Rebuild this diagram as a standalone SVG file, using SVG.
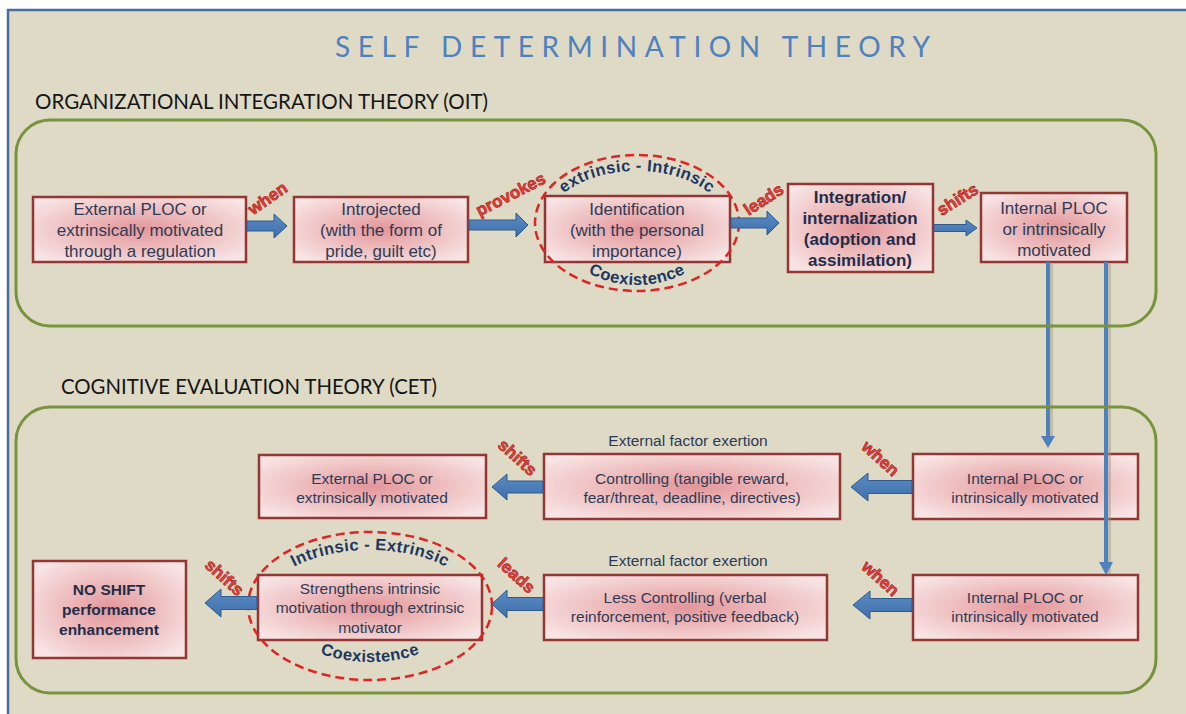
<svg xmlns="http://www.w3.org/2000/svg" width="1186" height="714" viewBox="0 0 1186 714">
  <defs>
    <radialGradient id="boxFill" cx="0.5" cy="0.5" r="0.62">
      <stop offset="0" stop-color="#e3969a"/>
      <stop offset="0.55" stop-color="#efc1c2"/>
      <stop offset="1" stop-color="#f8e4e4"/>
    </radialGradient>
    <linearGradient id="arrowFill" x1="0" y1="0" x2="0" y2="1">
      <stop offset="0" stop-color="#5b8cc6"/>
      <stop offset="1" stop-color="#3f6fa8"/>
    </linearGradient>
    <path id="arcTop1" d="M 547,225 A 90,54 0 0 1 727,225"/>
    <path id="arcBot1" d="M 555,223 A 82,62 0 0 0 719,223"/>
    <path id="arcTop2" d="M 262,608 A 108,58 0 0 1 478,608"/>
    <path id="arcBot2" d="M 272,602 A 98,60 0 0 0 468,602"/>
  </defs>
  <style>
    .panel { fill: #dedac6; stroke: #4a6d9c; stroke-width: 2.5; }
    .group { fill: none; stroke: #77933c; stroke-width: 3; }
    .box { fill: url(#boxFill); stroke: #943634; stroke-width: 2.5; }
    .txt { font-family: "Liberation Sans", Arial, sans-serif; font-size: 17px; fill: #2e3b56; text-anchor: middle; }
    .sm { font-size: 15.5px; }
    .bold { font-weight: bold; fill: #1f2d4b; }
    .title { font-family: Lato, "Open Sans", sans-serif; font-size: 28px; fill: #4f81bd; }
    .head { font-family: Lato, "Open Sans", sans-serif; font-size: 21px; fill: #151515; }
    .lbl { font-family: "Liberation Sans", Arial, sans-serif; font-size: 17px; font-weight: bold; fill: #e8403a; stroke: #a81c1c; stroke-width: 0.6; text-anchor: middle; }
    .arrow { fill: url(#arrowFill); stroke: #2f5a8e; stroke-width: 1; }
    .vline { stroke: #4f81bd; stroke-width: 4; fill: none; }
    .vshadow { stroke: #9a9684; stroke-width: 4; fill: none; opacity: 0.45; }
    .ring { fill: none; stroke: #e02424; stroke-width: 2.5; stroke-dasharray: 9 5; }
    .arc { font-family: "Liberation Sans", Arial, sans-serif; font-size: 16.5px; font-weight: bold; fill: #21365e; letter-spacing: 0.4px; }
  </style>

  <!-- background panel -->
  <rect x="0" y="0" width="1186" height="714" fill="#ffffff"/>
  <rect class="panel" x="8" y="10" width="1200" height="720"/>

  <!-- titles -->
  <text class="title" x="335" y="57" textLength="595" lengthAdjust="spacing">SELF DETERMINATION THEORY</text>
  <text class="head" x="35" y="109" textLength="453" lengthAdjust="spacingAndGlyphs">ORGANIZATIONAL INTEGRATION THEORY (OIT)</text>
  <text class="head" x="61" y="394" textLength="376" lengthAdjust="spacingAndGlyphs">COGNITIVE EVALUATION THEORY (CET)</text>

  <!-- OIT nodes -->
  <g id="oit-external">
    <rect class="box" x="33" y="197" width="213" height="65"/>
    <text class="txt" x="140" y="215">External PLOC or</text>
    <text class="txt" x="140" y="236">extrinsically motivated</text>
    <text class="txt" x="140" y="257">through a regulation</text>
  </g>
  <g id="oit-introjected">
    <rect class="box" x="294" y="197" width="174" height="65"/>
    <text class="txt" x="381" y="215">Introjected</text>
    <text class="txt" x="381" y="236">(with the form of</text>
    <text class="txt" x="381" y="257">pride, guilt etc)</text>
  </g>
  <g id="oit-identification">
    <rect class="box" x="545" y="196" width="185" height="66"/>
    <text class="txt" x="637" y="215">Identification</text>
    <text class="txt" x="637" y="236">(with the personal</text>
    <text class="txt" x="637" y="257">importance)</text>
    <ellipse class="ring" cx="637" cy="223" rx="102" ry="68"/>
    <text class="arc"><textPath href="#arcTop1" startOffset="50%" text-anchor="middle">extrinsic - Intrinsic</textPath></text>
    <text class="arc"><textPath href="#arcBot1" startOffset="50%" text-anchor="middle">Coexistence</textPath></text>
  </g>
  <g id="oit-integration">
    <rect class="box" x="788" y="184" width="145" height="88"/>
    <text class="txt bold" x="860" y="203">Integration/</text>
    <text class="txt bold" x="860" y="224">internalization</text>
    <text class="txt bold" x="860" y="245">(adoption and</text>
    <text class="txt bold" x="860" y="266">assimilation)</text>
  </g>
  <g id="oit-internal">
    <rect class="box" x="981" y="193" width="146" height="69"/>
    <text class="txt" x="1054" y="214">Internal PLOC</text>
    <text class="txt" x="1054" y="235">or intrinsically</text>
    <text class="txt" x="1054" y="256">motivated</text>
  </g>

  <!-- CET nodes, first row -->
  <g id="cet-external">
    <rect class="box" x="259" y="455" width="227" height="63"/>
    <text class="txt sm" x="372" y="484">External PLOC or</text>
    <text class="txt sm" x="372" y="503">extrinsically motivated</text>
  </g>
  <g id="cet-controlling">
    <rect class="box" x="544" y="454" width="296" height="65"/>
    <text class="txt sm" x="692" y="484">Controlling (tangible reward,</text>
    <text class="txt sm" x="692" y="503">fear/threat, deadline, directives)</text>
  </g>
  <g id="cet-internal-1">
    <rect class="box" x="913" y="454" width="225" height="65"/>
    <text class="txt sm" x="1025" y="484">Internal PLOC or</text>
    <text class="txt sm" x="1025" y="503">intrinsically motivated</text>
  </g>

  <!-- CET nodes, second row -->
  <g id="cet-noshift">
    <rect class="box" x="33" y="561" width="153" height="97"/>
    <text class="txt bold sm" x="109" y="595">NO SHIFT</text>
    <text class="txt bold sm" x="109" y="615">performance</text>
    <text class="txt bold sm" x="109" y="635">enhancement</text>
  </g>
  <g id="cet-strengthens">
    <rect class="box" x="258" y="575" width="224" height="65"/>
    <text class="txt sm" x="370" y="594">Strengthens intrinsic</text>
    <text class="txt sm" x="370" y="613">motivation through extrinsic</text>
    <text class="txt sm" x="370" y="633">motivator</text>
    <ellipse class="ring" cx="370" cy="606" rx="122" ry="74"/>
    <text class="arc"><textPath href="#arcTop2" startOffset="50%" text-anchor="middle">Intrinsic - Extrinsic</textPath></text>
    <text class="arc"><textPath href="#arcBot2" startOffset="50%" text-anchor="middle">Coexistence</textPath></text>
  </g>
  <g id="cet-less-controlling">
    <rect class="box" x="544" y="575" width="283" height="65"/>
    <text class="txt sm" x="685" y="603">Less Controlling (verbal</text>
    <text class="txt sm" x="685" y="622">reinforcement, positive feedback)</text>
  </g>
  <g id="cet-internal-2">
    <rect class="box" x="913" y="575" width="225" height="65"/>
    <text class="txt sm" x="1025" y="603">Internal PLOC or</text>
    <text class="txt sm" x="1025" y="622">intrinsically motivated</text>
  </g>

  <!-- captions above the controlling boxes -->
  <text class="txt sm" x="688" y="446">External factor exertion</text>
  <text class="txt sm" x="688" y="566">External factor exertion</text>

  <!-- connectors -->
  <g id="connectors">
    <!-- OIT chain, left to right -->
    <path class="arrow" d="M247,221 L274,221 L274,214 L287,226 L274,238 L274,231 L247,231 Z"/>
    <path class="arrow" d="M469,220 L516,220 L516,213 L528,225 L516,237 L516,230 L469,230 Z"/>
    <path class="arrow" d="M731,218 L767,218 L767,211 L779,223 L767,235 L767,228 L731,228 Z"/>
    <path class="arrow" d="M934,224.5 L966,224.5 L966,220 L977,228 L966,236 L966,231.5 L934,231.5 Z"/>

    <!-- descending links from the OIT outcome -->
    <line class="vshadow" x1="1051" y1="264" x2="1051" y2="440"/>
    <line class="vshadow" x1="1109" y1="264" x2="1109" y2="574"/>
    <line class="vline" x1="1048" y1="262" x2="1048" y2="438"/>
    <path d="M1041,436 L1055,436 L1048,448 Z" fill="#4f81bd"/>
    <line class="vline" x1="1106" y1="262" x2="1106" y2="564"/>
    <path d="M1099,562 L1113,562 L1106,575 Z" fill="#4f81bd"/>

    <!-- CET first row, right to left -->
    <path class="arrow" d="M912,480.5 L868,480.5 L868,473 L851,487 L868,501 L868,493.5 L912,493.5 Z"/>
    <path class="arrow" d="M543,481 L507,481 L507,474 L492,487 L507,500 L507,493 L543,493 Z"/>

    <!-- CET second row, right to left -->
    <path class="arrow" d="M912,598.5 L870,598.5 L870,591 L853,605 L870,619 L870,611.5 L912,611.5 Z"/>
    <path class="arrow" d="M543,597.5 L507,597.5 L507,590 L492,604 L507,618 L507,610.5 L543,610.5 Z"/>
    <path class="arrow" d="M257,596.5 L221,596.5 L221,589 L205,603 L221,617 L221,609.5 L257,609.5 Z"/>

    <!-- connector labels -->
    <text class="lbl" transform="translate(268,199) rotate(-35)" dy="5">when</text>
    <text class="lbl" transform="translate(511,195) rotate(-27)" dy="5">provokes</text>
    <text class="lbl" transform="translate(764,200) rotate(-33)" dy="5">leads</text>
    <text class="lbl" transform="translate(958,200) rotate(-32)" dy="5">shifts</text>
    <text class="lbl" transform="translate(517,458) rotate(42)" dy="5">shifts</text>
    <text class="lbl" transform="translate(880,459) rotate(42)" dy="5">when</text>
    <text class="lbl" transform="translate(880,579) rotate(42)" dy="5">when</text>
    <text class="lbl" transform="translate(516,576) rotate(42)" dy="5">leads</text>
    <text class="lbl" transform="translate(224,578) rotate(42)" dy="5">shifts</text>
  </g>

  <!-- section frames, drawn over the descending links -->
  <rect class="group" x="16" y="120" width="1140" height="206" rx="34" ry="34"/>
  <rect class="group" x="16" y="407" width="1140" height="286" rx="34" ry="34"/>
</svg>
